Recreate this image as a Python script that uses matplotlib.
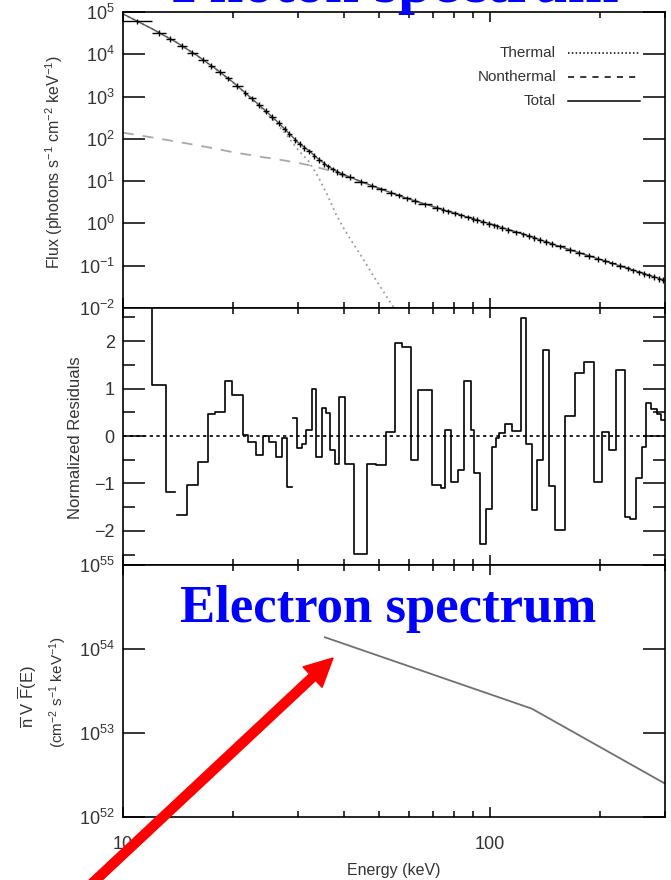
import numpy as np
import matplotlib
matplotlib.use('Agg')
import matplotlib.pyplot as plt
from matplotlib.patches import FancyArrow
from matplotlib.transforms import IdentityTransform
from matplotlib.ticker import MultipleLocator, NullLocator, NullFormatter

plt.rcParams['font.family'] = ['Liberation Sans', 'DejaVu Sans']
plt.rcParams['mathtext.default'] = 'regular'

# ---- photon spectrum: count bins (keV), fluxes, normalized residuals ----
bin_edges = np.array([10.0, 11.99, 13.09, 13.84, 14.02, 14.92, 15.99, 17.02, 17.78, 18.93,
                      19.78, 21.19, 21.86, 22.98, 24.02, 24.93, 26.05, 27.05, 28.07, 28.79,
                      29.15, 29.89, 30.84, 31.62, 32.84, 33.67, 34.96, 35.84, 36.75, 37.92,
                      38.88, 40.36, 42.70, 46.33, 49.00, 52.18, 55.18, 57.67, 61.00, 63.74,
                      69.57, 73.58, 75.44, 78.34, 81.85, 84.99, 88.81, 90.49, 93.93, 97.52,
                      101.3, 103.8, 105.8, 109.8, 114.8, 121.4, 125.3, 130.1, 134.2, 139.3,
                      144.6, 150.2, 159.9, 170.2, 180.1, 191.7, 201.5, 210.6, 220.0, 232.8,
                      241.6, 250.8, 260.4, 267.0, 275.5, 286.1, 293.4, 300.0])

photon_flux = np.array([6.0e4, 3.27e4, 2.31e4, np.nan, 1.6e4, 1.09e4, 7.5e3, 5.4e3, 3.83e3, 2.72e3,
                        1.80e3, 1.22e3, 906, 634, 461, 333, 238, 172, 131, np.nan,
                        95.5, 75.7, 62.2, 50.3, 40.1, 32.1, 26.1, 22.2, 19.0, 16.6,
                        14.8, 12.5, 9.7, 7.8, 6.41, 5.35, 4.59, 3.94, 3.43, 2.87,
                        2.37, 2.12, 1.95, 1.75, 1.57, 1.41, 1.30, 1.21, 1.10, 0.98,
                        0.914, 0.862, 0.798, 0.715, 0.624, 0.553, 0.505, 0.458, 0.413, 0.370,
                        0.331, 0.286, 0.239, 0.202, 0.172, 0.147, 0.129, 0.114, 0.099, 0.0869,
                        0.0782, 0.0705, 0.0646, 0.0596, 0.0541, 0.0496, 0.0467])
FLUX_ERR = 0.15  # fractional error bar

residuals = np.array([3.5, 1.08, -1.18, np.nan, -1.67, -1.04, -0.54, 0.46, 0.50, 1.15,
                      0.87, 0.02, -0.12, -0.40, 0.0, -0.12, -0.44, -0.04, -1.07, np.nan,
                      0.38, -0.25, -0.17, 0.12, 1.0, -0.44, 0.59, 0.48, -0.30, -0.59,
                      0.83, -0.59, -2.48, -0.59, -0.62, 0.09, 1.96, 1.87, -0.51, 0.97,
                      -1.04, -1.10, 0.13, -0.97, -0.72, 1.15, 0.13, -0.78, -2.27, -1.54,
                      -0.23, -0.05, 0.06, 0.26, 0.10, 2.49, -0.17, -1.57, -0.51, 1.82,
                      -1.05, -1.99, 0.43, 1.33, 1.56, -0.97, 0.09, -0.30, 1.40, -1.70,
                      -1.76, -0.88, -0.23, 0.70, 0.57, 0.47, 0.34])

# ---- model components ----
E_model = np.array([10, 12, 14, 16, 18, 20, 22, 24, 26, 28, 30, 32, 34, 36, 38, 40, 42, 45,
                    48, 52, 56, 60, 70, 80, 100, 130, 160, 200, 250, 300])
thermal = np.array([9.0e4, 4.0e4, 1.9e4, 9.0e3, 4.3e3, 2.1e3, 1.0e3, 500, 250, 120, 55, 30,
                    13, 4.8, 1.7, 0.75, 0.38, 0.15, 0.06, 0.02, 0.0075, 0.003,
                    np.nan, np.nan, np.nan, np.nan, np.nan, np.nan, np.nan, np.nan])
nonthermal = np.array([140, 108, 86, 70, 58, 48, 42, 37, 33.5, 30, 27, 24, 21, 18.5, 15.8,
                       13.5, 11.6, 9.3, 7.6, 5.9, 4.7, 3.8, 2.5, 1.75, 0.98, 0.48, 0.26,
                       0.14, 0.075, 0.045])
total = nonthermal + np.nan_to_num(thermal)

# ---- mean electron flux spectrum ----
E_electron = np.array([35.5, 130.0, 300.0])
nVF = np.array([1.38e54, 1.95e53, 2.5e52])

# ---- figure ----
fig = plt.figure(figsize=(6.71, 8.80), dpi=100)
L, W = 123 / 671, 542 / 671
ax1 = fig.add_axes([L, 572 / 880, W, 296 / 880])
ax2 = fig.add_axes([L, 315 / 880, W, 257 / 880])
ax3 = fig.add_axes([L, 63 / 880, W, 252 / 880])

label_col = '#333333'
for ax in (ax1, ax2, ax3):
    ax.set_xscale('log')
    ax.set_xlim(10, 300)
    ax.tick_params(which='both', direction='in', top=True, right=True,
                   labelcolor=label_col, labelsize=13, width=1.1)
    ax.tick_params(axis='y', which='major', length=16, pad=6)
    ax.tick_params(axis='y', which='minor', length=8.5)
    ax.tick_params(axis='x', which='major', length=7.5, pad=14)
    ax.tick_params(axis='x', which='minor', length=4.5)
    ax.set_xticks([10, 100], labels=['10', '100'])
    ax.xaxis.set_minor_formatter(NullFormatter())
    for s in ax.spines.values():
        s.set_linewidth(1.2)
ax1.tick_params(labelbottom=False)
ax2.tick_params(labelbottom=False)

# top: photon spectrum
ax1.set_yscale('log')
ax1.set_ylim(1e-2, 1e5)
ax1.yaxis.set_minor_locator(NullLocator())
ax1.plot(E_model, thermal, color='#9a9a9a', lw=1.3, ls=(0, (1, 2)))
ax1.plot(E_model, nonthermal, color='#a8a8a8', lw=1.3, ls=(0, (6, 5)))
ax1.plot(E_model, total, color='#555555', lw=1.0)
E_lo, E_hi = bin_edges[:-1], bin_edges[1:]
E_mid = np.sqrt(E_lo * E_hi)
ax1.errorbar(E_mid, photon_flux, xerr=[E_mid - E_lo, E_hi - E_mid],
             yerr=photon_flux * FLUX_ERR, fmt='none', ecolor='black', elinewidth=1.0)

# legend drawn by hand
leg_rows = [('Thermal', (0, (1, 1.5))), ('Nonthermal', (0, (4, 4))), ('Total', '-')]
for i, (name, ls) in enumerate(leg_rows):
    yy = 0.861 - i * 0.081
    ax1.text(0.799, yy, name, transform=ax1.transAxes, ha='right', va='center',
             fontsize=11, color=label_col)
    ax1.plot([0.821, 0.954], [yy, yy], transform=ax1.transAxes, color='black',
             lw=1.1, ls=ls)

# middle: residuals
step_x = np.repeat(bin_edges, 2)[1:-1]
step_y = np.repeat(residuals, 2)
ax2.plot(step_x, step_y, color='black', lw=1.2)
ax2.axhline(0, color='black', lw=1.2, ls=(0, (2, 2)))
ax2.set_ylim(-2.72, 2.70)
ax2.yaxis.set_major_locator(MultipleLocator(1))
ax2.yaxis.set_minor_locator(MultipleLocator(0.5))

# bottom: electron spectrum
ax3.set_yscale('log')
ax3.set_ylim(1e52, 1e55)
ax3.yaxis.set_minor_locator(NullLocator())
ax3.plot(E_electron, nVF, color='#707070', lw=1.3)

# axis labels
fig.text(54 / 671, 1 - 162 / 880, r'Flux (photons s$^{-1}$ cm$^{-2}$ keV$^{-1}$)',
         rotation=90, ha='center', va='center', fontsize=11.5, color=label_col)
fig.text(75 / 671, 1 - 438 / 880, 'Normalized Residuals', rotation=90,
         ha='center', va='center', fontsize=12, color=label_col)
fig.text(27 / 671, 1 - 697 / 880, r'$\overline{n}$ V $\overline{F}$(E)', rotation=90,
         ha='center', va='center', fontsize=12, color=label_col)
fig.text(58 / 671, 1 - 692 / 880, r'(cm$^{-2}$ s$^{-1}$ keV$^{-1}$)', rotation=90,
         ha='center', va='center', fontsize=11, color=label_col)
fig.text(394 / 671, 1 - 870 / 880, 'Energy (keV)', ha='center', va='center',
         fontsize=11.5, color=label_col)

# blue titles (the upper one runs off the top edge, as in the original)
fig.text(395 / 671, 1 - 2 / 880, 'Photon spectrum', ha='center', va='baseline',
         fontsize=44, fontweight='bold', family='Liberation Serif', color='#0000ff')
fig.text(388.5 / 671, 1 - 622 / 880, 'Electron spectrum', ha='center', va='baseline',
         fontsize=38, fontweight='bold', family='Liberation Serif', color='#0000ff')

# red arrow (pixel coordinates, origin bottom-left)
arrow = FancyArrow(85, -10, 248, 232, width=9, head_width=28, head_length=28,
                   length_includes_head=True, color='#ff0000', transform=IdentityTransform())
fig.add_artist(arrow)

fig.savefig('out.png', dpi=100)
